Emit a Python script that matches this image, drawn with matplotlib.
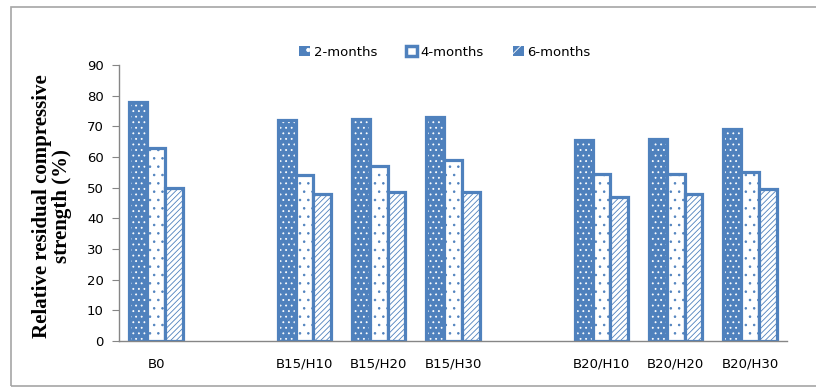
import numpy as np
import matplotlib
matplotlib.use("Agg")
import matplotlib.pyplot as plt
from matplotlib.patches import Patch, Rectangle

# mixes in order; blank slots separate the binder groups
categories = ["B0", "", "B15/H10", "B15/H20", "B15/H30", "", "B20/H10", "B20/H20", "B20/H30"]
months_2 = [78, None, 72, 72.5, 73, None, 65.5, 66, 69]
months_4 = [63, None, 54, 57, 59, None, 54.5, 54.5, 55]
months_6 = [50, None, 48, 48.5, 48.5, None, 47, 48, 49.5]
series_names = ["2-months", "4-months", "6-months"]

BLUE = "#4F81BD"
AXIS_GRAY = "#868686"

plt.rcParams["hatch.linewidth"] = 0.6

W, H = 816, 387
fig = plt.figure(figsize=(W / 100, H / 100), dpi=100)
ax = fig.add_axes([119 / W, 46 / H, (787 - 119) / W, (322 - 46) / H])

x = np.arange(len(categories))
width = 0.24
styles = [
    dict(face=BLUE, hatch_col="white", hatch="..."),
    dict(face="white", hatch_col=BLUE, hatch=".."),
    dict(face="white", hatch_col=BLUE, hatch="//////"),
]
series = [months_2, months_4, months_6]

for k, (vals, st) in enumerate(zip(series, styles)):
    v = np.array([np.nan if s is None else s for s in vals], dtype=float)
    pos = x + (k - 1) * width
    ax.bar(pos, v, width, color=st["face"], edgecolor=st["hatch_col"],
           hatch=st["hatch"], linewidth=0)
    ax.bar(pos, v, width, fill=False, edgecolor=BLUE, linewidth=2.3)

ax.set_xlim(-0.5, len(categories) - 0.5)
ax.set_ylim(0, 90)
ax.set_yticks(np.arange(0, 91, 10))
ax.set_xticks([i for i, c in enumerate(categories) if c])
ax.set_xticklabels([c for c in categories if c])

for s in ["top", "right"]:
    ax.spines[s].set_visible(False)
for s in ["left", "bottom"]:
    ax.spines[s].set_color(AXIS_GRAY)
    ax.spines[s].set_linewidth(1.0)
ax.tick_params(axis="y", direction="out", length=5, color=AXIS_GRAY,
               labelsize=9.5, pad=6)
ax.tick_params(axis="x", length=0, labelsize=9.5, pad=12)

handles = [Patch(facecolor=BLUE, edgecolor="white", hatch=".", linewidth=0),
           Patch(facecolor="white", edgecolor=BLUE, linewidth=2.5),
           Patch(facecolor=BLUE, edgecolor="white", hatch="//", linewidth=0)]
fig.legend(handles, series_names, loc="center", bbox_to_anchor=(445 / W, 1 - 52 / H),
           ncol=3, frameon=False, fontsize=9.5, handlelength=0.8, handleheight=0.8,
           handletextpad=0.3, columnspacing=2.2)

fig.text(52 / W, 1 - 206 / H, "Relative residual compressive\nstrength (%)",
         rotation=90, ha="center", va="center", family="Liberation Serif",
         fontweight="bold", fontsize=15, linespacing=1.05)

# chart border
fig.patches.append(Rectangle((11 / W, 1 / H), 1.0, 379 / H, transform=fig.transFigure,
                             fill=False, edgecolor="#A6A6A6", linewidth=1.2))

fig.savefig("out.png", dpi=100)
